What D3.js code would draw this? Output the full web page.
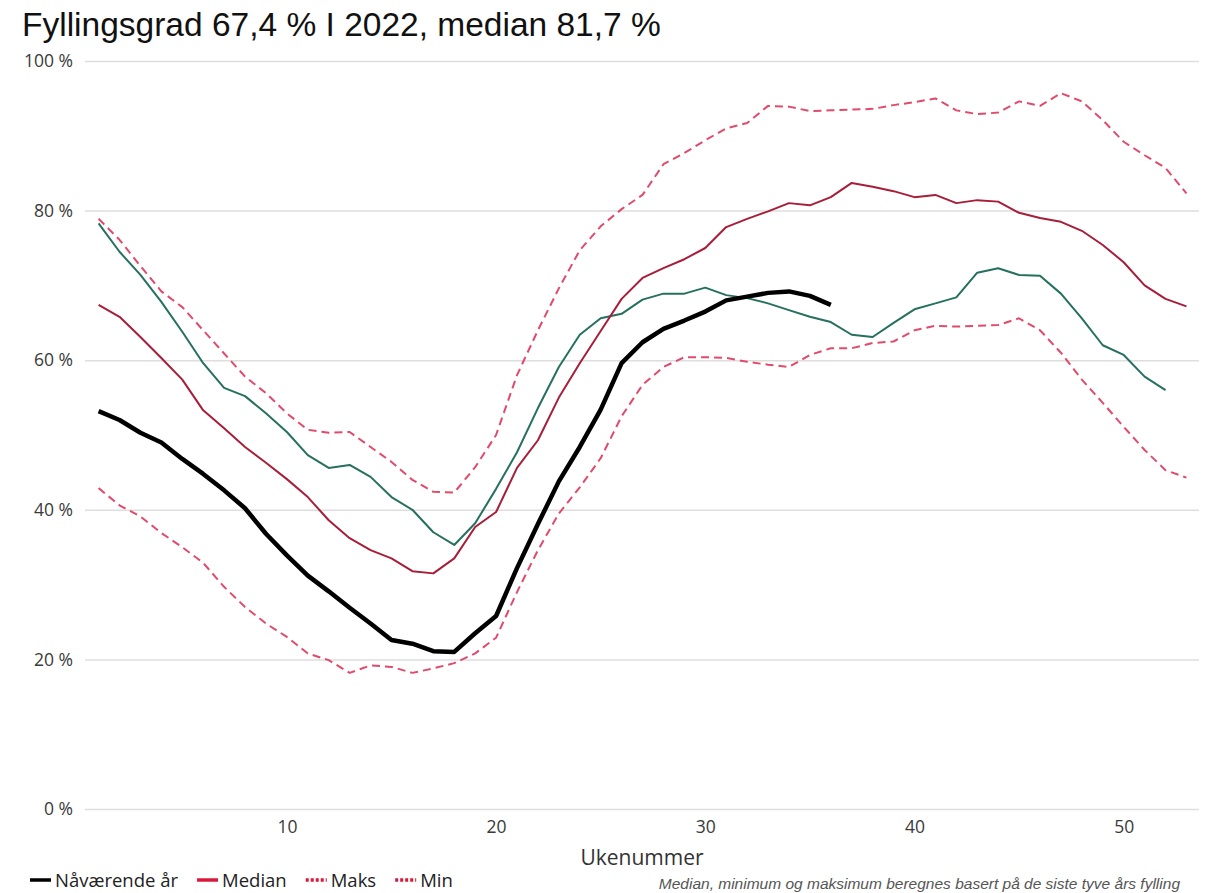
<!DOCTYPE html>
<html>
<head>
<meta charset="utf-8">
<script src="https://cdn.jsdelivr.net/npm/d3@7"></script>
<style>
  body { margin: 0; background: #fff; }
  svg { display: block; }
</style>
</head>
<body>
<div id="chart"></div>
<script>
// week numbers and series (percent filling)
const weeks = d3.range(1, 54);
const yTicks = [0, 20, 40, 60, 80, 100];
const xTicks = [10, 20, 30, 40, 50];

const currentYear = [53.2, 52.0, 50.3, 49.0, 46.8, 44.8, 42.6, 40.2, 36.8, 33.9, 31.2, 29.1, 26.9, 24.8, 22.6, 22.1, 21.1, 21.0, 23.5, 25.8,
  32.2, 38.1, 43.8, 48.4, 53.4, 59.6, 62.4, 64.2, 65.3, 66.5, 68.0, 68.5, 69.0, 69.2, 68.6, 67.4];

const median = [67.4, 65.8, 63.1, 60.3, 57.4, 53.3, 50.9, 48.4, 46.3, 44.1, 41.7, 38.6, 36.2, 34.6, 33.5, 31.8, 31.5, 33.5, 37.7, 39.7,
  45.6, 49.3, 55.0, 59.6, 63.9, 68.2, 71.0, 72.3, 73.5, 75.0, 77.8, 78.9, 79.9, 81.0, 80.7, 81.8, 83.7, 83.2, 82.6, 81.8,
  82.1, 81.0, 81.4, 81.2, 79.7, 79.0, 78.5, 77.3, 75.4, 73.1, 70.0, 68.2, 67.2];

const maks = [78.9, 76.1, 72.6, 69.2, 67.1, 64.0, 60.9, 57.8, 55.6, 52.9, 50.7, 50.3, 50.4, 48.4, 46.4, 44.0, 42.4, 42.3, 45.7, 50.0,
  58.0, 64.0, 69.6, 74.7, 77.9, 80.2, 82.1, 86.2, 87.7, 89.4, 91.0, 91.7, 94.0, 93.9, 93.3, 93.4, 93.5, 93.6, 94.1, 94.5,
  95.0, 93.4, 92.9, 93.1, 94.6, 94.0, 95.7, 94.6, 92.1, 89.2, 87.4, 85.7, 82.3];

const min = [42.9, 40.6, 39.1, 36.9, 35.0, 32.9, 29.7, 27.0, 24.8, 23.0, 20.8, 19.9, 18.2, 19.2, 19.0, 18.2, 18.8, 19.5, 20.8, 22.9,
  29.0, 34.6, 39.5, 43.0, 46.9, 52.5, 56.7, 59.1, 60.4, 60.4, 60.3, 59.8, 59.4, 59.1, 60.7, 61.6, 61.6, 62.3, 62.5, 64.0,
  64.6, 64.5, 64.6, 64.7, 65.6, 64.0, 61.0, 57.4, 54.3, 51.1, 48.0, 45.3, 44.3];

// last year (no legend entry)
const lastYear = [78.3, 74.5, 71.4, 67.8, 63.8, 59.6, 56.3, 55.2, 52.9, 50.4, 47.3, 45.6, 46.0, 44.4, 41.7, 40.0, 37.0, 35.3, 38.2, 42.8,
  47.7, 53.6, 59.1, 63.4, 65.6, 66.2, 68.1, 68.9, 68.9, 69.7, 68.7, 68.3, 67.6, 66.7, 65.8, 65.1, 63.4, 63.1, 65.0, 66.8,
  67.6, 68.4, 71.7, 72.3, 71.4, 71.3, 68.9, 65.6, 62.0, 60.7, 57.8, 56.0];

const legendItems = [
  { label: "Nåværende år", color: "#000", dash: null },
  { label: "Median", color: "#d8193b", dash: null },
  { label: "Maks", color: "#d8193b", dash: "3,2" },
  { label: "Min", color: "#d8193b", dash: "3,2" }
];

const width = 1209, height = 893;
const plotLeft = 85, plotRight = 1199, plotTop = 61, plotBottom = 809;

const svg = d3.select("#chart").append("svg")
  .attr("width", width)
  .attr("height", height);

const x = d3.scaleLinear().domain([0.35, 53.6]).range([plotLeft, plotRight]);
const y = d3.scaleLinear().domain([0, 100]).range([plotBottom, plotTop]);

// title
svg.append("text")
  .attr("x", 22).attr("y", 36)
  .style("font-family", "'Liberation Sans', Arial, sans-serif")
  .style("font-size", "33.5px")
  .attr("fill", "#111")
  .text("Fyllingsgrad 67,4 % I 2022, median 81,7 %");

// y axis with gridlines
const yAxis = svg.append("g")
  .attr("transform", `translate(${plotLeft},0)`)
  .call(d3.axisLeft(y).tickValues(yTicks).tickFormat(d => d + " %").tickSize(-(plotRight - plotLeft)).tickPadding(12));
yAxis.select(".domain").remove();
yAxis.selectAll(".tick line").attr("stroke", "#dedede").attr("stroke-width", 1.5);
yAxis.selectAll(".tick text")
  .style("font-family", "'Open Sans', sans-serif")
  .style("font-size", "17.5px")
  .attr("fill", "#3a3a3a");

// x axis
const xAxis = svg.append("g")
  .attr("transform", `translate(0,${plotBottom})`)
  .call(d3.axisBottom(x).tickValues(xTicks).tickSize(0).tickPadding(12));
xAxis.select(".domain").remove();
xAxis.selectAll(".tick text")
  .style("font-family", "'Open Sans', sans-serif")
  .style("font-size", "17.5px")
  .attr("fill", "#3a3a3a");

svg.append("text")
  .attr("x", 642).attr("y", 865)
  .attr("text-anchor", "middle")
  .style("font-family", "'Open Sans', sans-serif")
  .style("font-size", "21px")
  .attr("fill", "#333")
  .text("Ukenummer");

// lines
const line = d3.line()
  .x((d, i) => x(weeks[i]))
  .y(d => y(d));

const series = [
  { data: min, color: "#e04b6b", width: 2, dash: "8,5" },
  { data: maks, color: "#e04b6b", width: 2, dash: "8,5" },
  { data: lastYear, color: "#26705f", width: 2, dash: null },
  { data: median, color: "#a71e3a", width: 2, dash: null },
  { data: currentYear, color: "#000", width: 4.5, dash: null }
];

svg.selectAll(".series")
  .data(series)
  .enter()
  .append("path")
  .attr("class", "series")
  .attr("d", d => line(d.data))
  .attr("fill", "none")
  .attr("stroke", d => d.color)
  .attr("stroke-width", d => d.width)
  .attr("stroke-dasharray", d => d.dash)
  .attr("stroke-linejoin", "round");

// legend
const legend = svg.append("g").attr("transform", "translate(30,880)");
let lx = 0;
legendItems.forEach(item => {
  const g = legend.append("g").attr("transform", `translate(${lx},0)`);
  g.append("line")
    .attr("x1", 0).attr("x2", 21)
    .attr("y1", 0).attr("y2", 0)
    .attr("stroke", item.color)
    .attr("stroke-width", 3.5)
    .attr("stroke-dasharray", item.dash);
  const t = g.append("text")
    .attr("x", 25).attr("y", 6.5)
    .style("font-family", "'Open Sans', sans-serif")
    .style("font-size", "18.5px")
    .attr("fill", "#222")
    .text(item.label);
  lx += 25 + t.node().getComputedTextLength() + 19;
});

// footnote
svg.append("text")
  .attr("x", 1180).attr("y", 889)
  .attr("text-anchor", "end")
  .style("font-family", "'Liberation Sans', Arial, sans-serif")
  .style("font-size", "15.5px")
  .style("font-style", "italic")
  .attr("fill", "#555")
  .text("Median, minimum og maksimum beregnes basert på de siste tyve års fylling");
</script>
</body>
</html>
